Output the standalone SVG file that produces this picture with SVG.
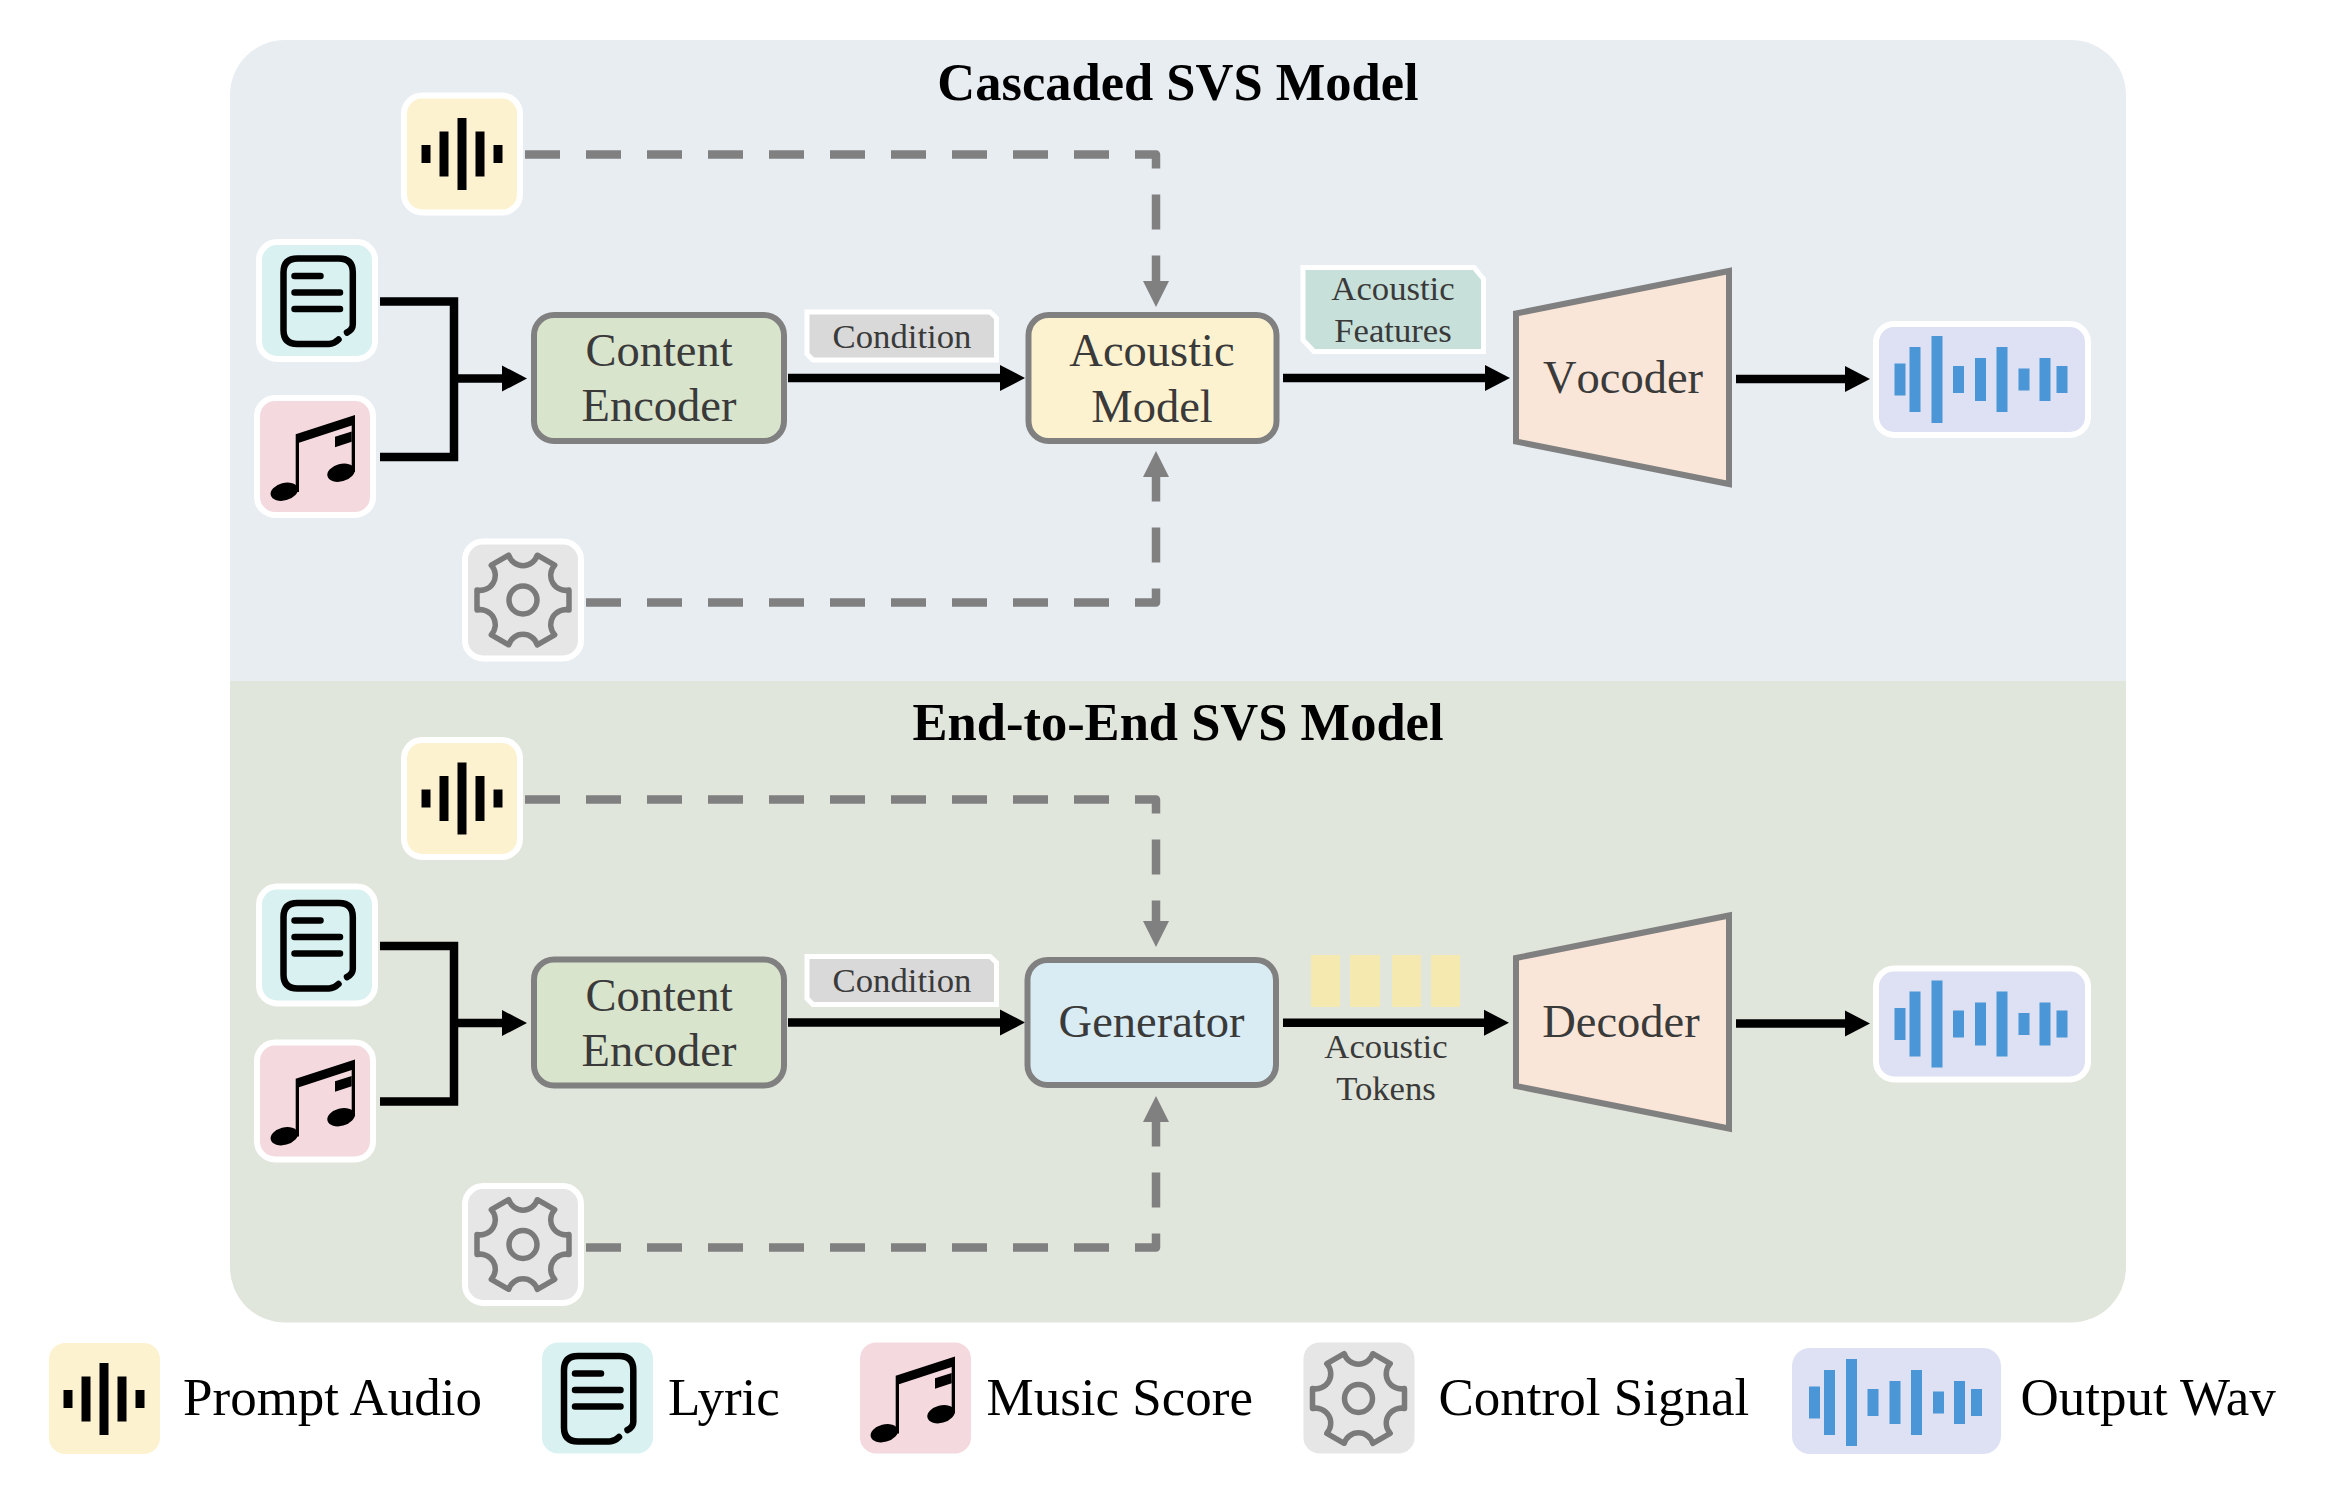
<svg xmlns="http://www.w3.org/2000/svg" width="2330" height="1492" viewBox="0 0 2330 1492">
<style>
text{font-family:"Liberation Serif","Times New Roman",serif;text-anchor:middle}
.title{font-size:52.5px;font-weight:bold;fill:#000}
.big{font-size:46.5px;fill:#3a3a3a}
.nokern{font-kerning:none}
.small{font-size:34.7px;fill:#3a3a3a}
.leg{font-size:53px;fill:#000;text-anchor:start}
.box{stroke:#808080;stroke-width:6}
.tile{stroke:#fff;stroke-width:6}
.tag{stroke:#fff;stroke-width:5}
.wire{fill:none;stroke:#000;stroke-width:8.5}
.dash{fill:none;stroke:#808080;stroke-width:8.5;stroke-dasharray:35 26;stroke-linejoin:round}
</style>
<defs>
<marker id="headBlack" markerUnits="userSpaceOnUse" markerWidth="28" markerHeight="28" viewBox="0 -14 28 28" refX="0" refY="0" orient="auto"><path d="M0-13L25 0L0 13Z" fill="#000"/></marker>
<marker id="headGray" markerUnits="userSpaceOnUse" markerWidth="28" markerHeight="28" viewBox="0 -14 28 28" refX="0" refY="0" orient="auto"><path d="M0-13L26 0L0 13Z" fill="#808080"/></marker>
<g id="icoWave" fill="#000"><rect x="-40.500" y="-9" width="9" height="18"/><rect x="-22.500" y="-22.500" width="9" height="45"/><rect x="-4.500" y="-36" width="9" height="72"/><rect x="13.500" y="-22.500" width="9" height="45"/><rect x="31.500" y="-9" width="9" height="18"/></g>
<g id="icoDoc" fill="none" stroke="#000" stroke-linecap="round" stroke-width="6.500" transform="translate(-317 -301)"><path d="M347 333Q352.800 330 352.800 325V273Q352.800 259 339 259H297.500Q283.500 259 283.500 273V330.500Q283.500 344.500 297.500 344.500H329Q334 344.500 338.500 340"/><path d="M294.500 276.600H320.500M294.500 293H340M294.500 309.500H340"/></g>
<g id="icoNote" fill="#000" transform="translate(-315 -456.500)"><path d="M295.700 434.300L355 415V472H351.700V425.500L299 442.700V492H295.700Z"/><path d="M335 436.700L351.700 431.500V441.700L335 447.300Z"/><ellipse cx="284.300" cy="491.700" rx="14" ry="8.700" transform="rotate(-15 284.300 491.700)"/><ellipse cx="341" cy="472.700" rx="14" ry="8.700" transform="rotate(-15 341 472.700)"/></g>
<g id="icoGear" fill="none" stroke="#7a7a7a" stroke-width="5.500"><path stroke-linejoin="round" d="M46-10V10A15 15 0 0 0 31.700 34.800L14.300 44.800A15 15 0 0 0-14.300 44.800L-31.700 34.800A15 15 0 0 0-46 10V-10A15 15 0 0 0-31.700-34.800L-14.300-44.800A15 15 0 0 0 14.300-44.800L31.700-34.800A15 15 0 0 0 46-10Z"/><circle r="14"/></g>
<g id="icoOut" fill="#4a96d6"><rect x="-87.500" y="-16" width="11" height="32"/><rect x="-72.500" y="-32.500" width="11" height="65"/><rect x="-50.500" y="-43.500" width="11" height="87"/><rect x="-29" y="-13.500" width="11" height="27"/><rect x="-7" y="-21.500" width="11" height="43"/><rect x="14.500" y="-32.500" width="11" height="65"/><rect x="36.500" y="-11" width="11" height="22"/><rect x="57.500" y="-21.500" width="11" height="43"/><rect x="74.500" y="-13.500" width="11" height="27"/></g>
<rect id="tileShape" x="-58" y="-58.500" width="116" height="117" rx="18"/>
<path id="tagCond" d="M807 312H990L996.500 318V360H813L807 354Z"/>
</defs>

<g id="panels">
<path id="panel-top" d="M230 681V95A55 55 0 0 1 285 40H2071A55 55 0 0 1 2126 95V681Z" fill="#e8edf2"/>
<path id="panel-bottom" d="M230 681H2126V1267.500A55 55 0 0 1 2071 1322.500H285A55 55 0 0 1 230 1267.500Z" fill="#e0e6db"/>
<text class="title" x="1178" y="100">Cascaded SVS Model</text>
<text class="title" x="1178" y="740">End-to-End SVS Model</text>
</g>

<g id="connectors">
<path class="dash" d="M525 154.500H1156V281" marker-end="url(#headGray)"/>
<path class="dash" d="M586 602.400H1156V477" marker-end="url(#headGray)"/>
<path class="wire" d="M380 301.500H454V457H380"/>
<path class="wire" d="M454 378.500H502" marker-end="url(#headBlack)"/>
<path class="wire" d="M788 378H1000" marker-end="url(#headBlack)"/>
<path class="wire" d="M1283 378H1485" marker-end="url(#headBlack)"/>
<path class="wire" d="M1736 379H1845" marker-end="url(#headBlack)"/>
<path class="dash" d="M525 799.500H1156V921" marker-end="url(#headGray)"/>
<path class="dash" d="M586 1247.400H1156V1122" marker-end="url(#headGray)"/>
<path class="wire" d="M380 946H454V1101.500H380"/>
<path class="wire" d="M454 1023H502" marker-end="url(#headBlack)"/>
<path class="wire" d="M788 1022.500H1000" marker-end="url(#headBlack)"/>
<path class="wire" d="M1283 1022.700H1484" marker-end="url(#headBlack)"/>
<path class="wire" d="M1736 1023.500H1845" marker-end="url(#headBlack)"/>
</g>

<g id="top-prompt" transform="translate(462 154)"><use href="#tileShape" class="tile" fill="#fdf2d0"/><use href="#icoWave"/></g>
<g id="top-lyric" transform="translate(317 300.500)"><use href="#tileShape" class="tile" fill="#d9f1f1"/><use href="#icoDoc"/></g>
<g id="top-music" transform="translate(315 456.500)"><use href="#tileShape" class="tile" fill="#f4dade"/><use href="#icoNote"/></g>
<g id="top-control" transform="translate(523 600)"><use href="#tileShape" class="tile" fill="#e6e6e6"/><use href="#icoGear"/></g>
<g id="top-encoder"><rect class="box" x="534" y="315" width="250" height="126" rx="20" fill="#d9e4cd"/><text class="big" x="659" y="366">Content</text><text class="big" x="659" y="421">Encoder</text></g>
<g id="top-condition"><use href="#tagCond" class="tag" fill="#d9d9d9"/><text class="small" x="902" y="348">Condition</text></g>
<g id="top-acoustic"><rect class="box" x="1028.500" y="315" width="248" height="126" rx="20" fill="#fdf2d0"/><text class="big" x="1152" y="365.500">Acoustic</text><text class="big" x="1152" y="421.500">Model</text></g>
<g id="top-features"><path class="tag" d="M1303 267.500H1474L1483.500 279V351.500H1314L1303 340Z" fill="#c8e0da"/><text class="small" x="1393" y="300">Acoustic</text><text class="small" x="1393" y="342">Features</text></g>
<g id="top-vocoder"><path class="box" d="M1516 313.500L1729 271V484L1516 441.500Z" fill="#f9e6d8"/><text class="big nokern" x="1623" y="393">Vocoder</text></g>
<g id="top-output" transform="translate(1982 379.500)"><rect class="tile" x="-106" y="-55.500" width="212" height="111" rx="18" fill="#dde1f3"/><use href="#icoOut"/></g>

<g id="bottom-prompt" transform="translate(462 798.500)"><use href="#tileShape" class="tile" fill="#fdf2d0"/><use href="#icoWave"/></g>
<g id="bottom-lyric" transform="translate(317 945)"><use href="#tileShape" class="tile" fill="#d9f1f1"/><use href="#icoDoc"/></g>
<g id="bottom-music" transform="translate(315 1101)"><use href="#tileShape" class="tile" fill="#f4dade"/><use href="#icoNote"/></g>
<g id="bottom-control" transform="translate(523 1244.500)"><use href="#tileShape" class="tile" fill="#e6e6e6"/><use href="#icoGear"/></g>
<g id="bottom-encoder"><rect class="box" x="534" y="959.500" width="250" height="126" rx="20" fill="#d9e4cd"/><text class="big" x="659" y="1010.500">Content</text><text class="big" x="659" y="1065.500">Encoder</text></g>
<g id="bottom-condition" transform="translate(0 644.500)"><use href="#tagCond" class="tag" fill="#d9d9d9"/><text class="small" x="902" y="347.500">Condition</text></g>
<g id="bottom-generator"><rect class="box" x="1027.500" y="960" width="248.500" height="125" rx="20" fill="#d9ebf3"/><text class="big" x="1151.500" y="1037">Generator</text></g>
<g id="bottom-tokens" fill="#f5e9b0"><rect x="1311" y="955" width="29" height="52"/><rect x="1350" y="955" width="30" height="52"/><rect x="1392" y="955" width="29" height="52"/><rect x="1431" y="955" width="29" height="52"/><text class="small" x="1386" y="1057.500">Acoustic</text><text class="small" x="1386" y="1099.500">Tokens</text></g>
<g id="bottom-decoder"><path class="box" d="M1516 958L1729 915.500V1128.500L1516 1086Z" fill="#f9e6d8"/><text class="big" x="1621" y="1037">Decoder</text></g>
<g id="bottom-output" transform="translate(1982 1024)"><rect class="tile" x="-106" y="-55.500" width="212" height="111" rx="18" fill="#dde1f3"/><use href="#icoOut"/></g>

<g id="legend-prompt"><rect x="49" y="1343" width="111" height="111" rx="16" fill="#fdf2d0"/><use href="#icoWave" x="104" y="1399"/><text class="leg" x="183" y="1415">Prompt Audio</text></g>
<g id="legend-lyric"><rect x="542" y="1342.500" width="111" height="111" rx="16" fill="#d9f1f1"/><use href="#icoDoc" x="597.500" y="1398"/><text class="leg" x="668" y="1415">Lyric</text></g>
<g id="legend-music"><rect x="860" y="1342.500" width="111" height="111" rx="16" fill="#f4dade"/><use href="#icoNote" x="915" y="1398"/><text class="leg" x="986.500" y="1415">Music Score</text></g>
<g id="legend-control"><rect x="1303.500" y="1342.500" width="111" height="111" rx="16" fill="#e6e6e6"/><use href="#icoGear" x="1358.500" y="1398.500"/><text class="leg" x="1438.500" y="1415">Control Signal</text></g>
<g id="legend-output"><rect x="1792" y="1348" width="209" height="106" rx="18" fill="#dde1f3"/><use href="#icoOut" x="1896.500" y="1402.500"/><text class="leg" x="2020.500" y="1415">Output Wav</text></g>
</svg>
